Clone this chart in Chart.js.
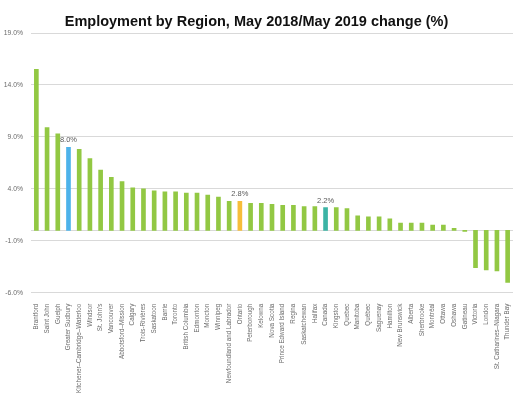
<!DOCTYPE html>
<html>
<head>
<meta charset="utf-8">
<script src="https://cdn.jsdelivr.net/npm/chart.js@4.4.1/dist/chart.umd.min.js"></script>
<style>
	html, body { margin: 0; padding: 0; background: #fff; }
	#wrap { width: 521px; height: 397px; }
</style>
</head>
<body>
<div id="wrap"><canvas id="myChart" width="521" height="397"></canvas></div>
<script>
// regions, in the order they appear on the axis
let regions = [
	'Brantford', 'Saint John', 'Guelph', 'Greater Sudbury', 'Kitchener\u2013Cambridge\u2013Waterloo',
	'Windsor', "St. John's", 'Vancouver', 'Abbotsford\u2013Mission', 'Calgary',
	'Trois-Rivi\u00e8res', 'Saskatoon', 'Barrie', 'Toronto', 'British Columbia',
	'Edmonton', 'Moncton', 'Winnipeg', 'Newfoundland and Labrador', 'Ontario',
	'Peterborough', 'Kelowna', 'Nova Scotia', 'Prince Edward Island', 'Regina',
	'Saskatchewan', 'Halifax', 'Canada', 'Kingston', 'Quebec',
	'Manitoba', 'Qu\u00e9bec', 'Saguenay', 'Hamilton', 'New Brunswick',
	'Alberta', 'Sherbrooke', 'Montr\u00e9al', 'Ottawa', 'Oshawa',
	'Gatineau', 'Victoria', 'London', 'St. Catharines\u2013Niagara', 'Thunder Bay'
]

// % change May 2018 / May 2019
let changes = [
	15.5, 9.9, 9.3, 8.0, 7.8,
	6.9, 5.8, 5.1, 4.7, 4.1,
	4.0, 3.8, 3.7, 3.7, 3.6,
	3.6, 3.4, 3.2, 2.8, 2.8,
	2.6, 2.6, 2.5, 2.4, 2.4,
	2.3, 2.3, 2.2, 2.2, 2.1,
	1.4, 1.3, 1.3, 1.1, 0.7,
	0.7, 0.7, 0.5, 0.5, 0.2,
	-0.1, -3.6, -3.8, -3.9, -5.0
]

// y axis ticks
let yTicks = [-6, -1, 4, 9, 14, 19]

// highlighted bars get their own colour and a value label
let highlight = {
	'Greater Sudbury': '#4db3ea',
	'Ontario': '#f6bd3a',
	'Canada': '#3cb4a5'
}
let green = '#92c843'

let barColors = regions.map((r) => highlight[r] || green)

// ***** PLUGINS *****
// zero line and value labels for the highlighted bars
let extras = {
	id: 'extras',
	beforeDatasetsDraw(chart) {
		let ctx = chart.ctx
		let y = chart.scales.y.getPixelForValue(0)
		let area = chart.chartArea
		ctx.save()
		ctx.strokeStyle = '#d9d9d9'
		ctx.lineWidth = 1
		ctx.beginPath()
		ctx.moveTo(area.left, Math.round(y) + 0.5)
		ctx.lineTo(area.right, Math.round(y) + 0.5)
		ctx.stroke()
		ctx.restore()
	},
	afterDatasetsDraw(chart) {
		let ctx = chart.ctx
		let meta = chart.getDatasetMeta(0)
		ctx.save()
		ctx.font = '7.5px "Liberation Sans", Arial, sans-serif'
		ctx.fillStyle = '#595959'
		ctx.textAlign = 'center'
		ctx.textBaseline = 'middle'
		regions.forEach((r, i) => {
			if (!highlight[r]) return
			let bar = meta.data[i]
			ctx.fillText(changes[i].toFixed(1) + '%', bar.x, bar.y - 7)
		})
		ctx.restore()
	}
}

// ***** CHART.JS *****
let ctx = document.getElementById('myChart').getContext('2d')
let myChart = new Chart(ctx, {
	type: 'bar',
	data: {
		labels: regions,
		datasets: [
			{
				data: changes,
				backgroundColor: barColors,
				borderWidth: 0,
				barThickness: 4,
			},
		],
	},
	options: {
		responsive: false,
		animation: false,
		layout: { padding: { left: 0, right: 8, top: 0, bottom: 0 } },
		plugins: {
			legend: { display: false },
			tooltip: { enabled: false },
			title: {
				display: true,
				text: 'Employment by Region, May 2018/May 2019 change (%)',
				color: '#111',
				font: { family: '"Liberation Sans", Arial, sans-serif', size: 14.5, weight: 'bold' },
				padding: { top: 13.3, bottom: 2.3 },
			},
		},
		scales: {
			x: {
				grid: { display: false },
				border: { display: false },
				ticks: {
					autoSkip: false,
					minRotation: 90,
					maxRotation: 90,
					padding: 3,
					color: '#6b6b6b',
					font: { family: '"Liberation Sans", Arial, sans-serif', size: 6.3 },
				},
				afterFit(scale) {
					scale.height = 104.3
				},
			},
			y: {
				min: -6,
				max: 19,
				afterBuildTicks(scale) {
					scale.ticks = yTicks.map((v) => ({ value: v }))
				},
				grid: { color: '#d9d9d9', drawTicks: false },
				border: { display: false },
				ticks: {
					padding: 8,
					color: '#6b6b6b',
					font: { family: '"Liberation Sans", Arial, sans-serif', size: 6.8 },
					callback: (v) => v.toFixed(1) + '%',
				},
				afterFit(scale) {
					scale.width = 31
				},
			},
		},
	},
	plugins: [extras],
})
</script>
</body>
</html>
